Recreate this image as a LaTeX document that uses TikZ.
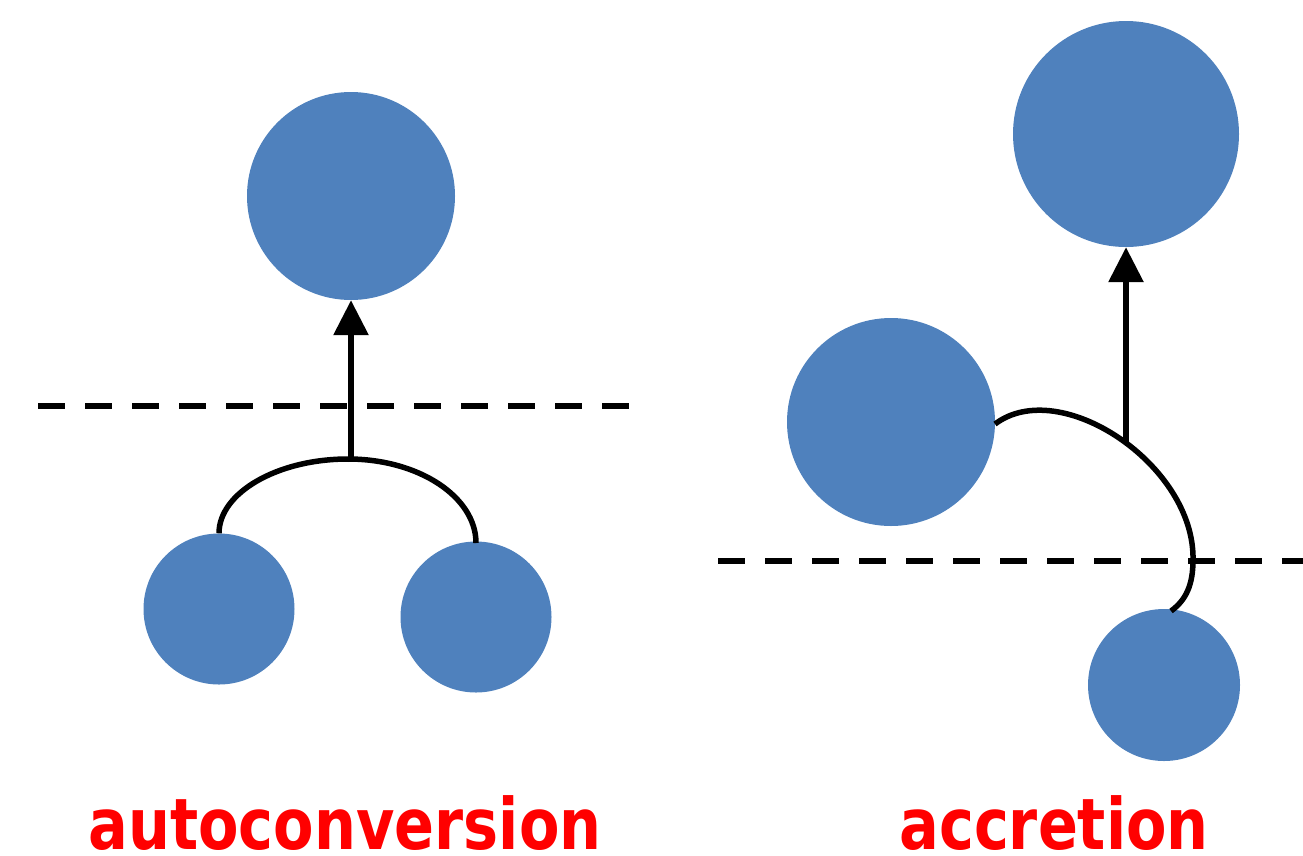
\documentclass[tikz,border=0pt]{standalone}
\usepackage{fontspec}
\newfontfamily\labfont{DejaVu Sans}[FakeStretch=0.83]
\usetikzlibrary{arrows.meta}
\definecolor{dropblue}{RGB}{79,129,189}
\definecolor{labred}{RGB}{255,0,0}
\tikzset{
  drop/.style={circle, fill=dropblue, draw=none, inner sep=0pt, minimum size=#1},
  path/.style={line width=5.5pt, black},
  growth/.style={line width=6pt, -{Triangle[length=35pt,width=34pt]}},
  threshold/.style={line width=6pt, dash pattern=on 27pt off 20pt},
  label/.style={text=labred, font=\labfont\bfseries\fontsize{71}{71}\selectfont, anchor=base, inner sep=0pt}
}
\begin{document}
\begin{tikzpicture}[x=1pt,y=-1pt]
\useasboundingbox (0,0) rectangle (1303,855);
% left: autoconversion
\node[drop=208pt] (big1) at (351,196) {};
\node[drop=151pt] (s1) at (219,609) {};
\node[drop=151pt] (s2) at (476,617) {};
\coordinate (t1) at (348,459);
\draw[threshold] (38,406) -- (632,406);
\draw[path] (s1.north) .. controls (219,493) and (277,459) .. (t1)
  .. controls (419,459) and (476,497) .. (476,543);
\draw[growth] (351,462) -- (big1.south);
% right: accretion
\node[drop=226pt] (big2) at (1126,134) {};
\node[drop=208pt] (mid2) at (891,422) {};
\node[drop=152pt] (s3) at (1164,685) {};
\coordinate (a2) at (1126,443);
\draw[threshold] (718,561) -- (1310,561);
\draw[path] (995,424) .. controls (1060,375) and (1195,465) .. (1193,560)
  .. controls (1193,585) and (1186,600) .. (1171,611);
\draw[growth] (a2) -- (big2.south);
% labels
\node[label] (l1) at (345,849) {autoconversion};
\node[label] (l2) at (1054,849) {accretion};
\end{tikzpicture}
\end{document}
